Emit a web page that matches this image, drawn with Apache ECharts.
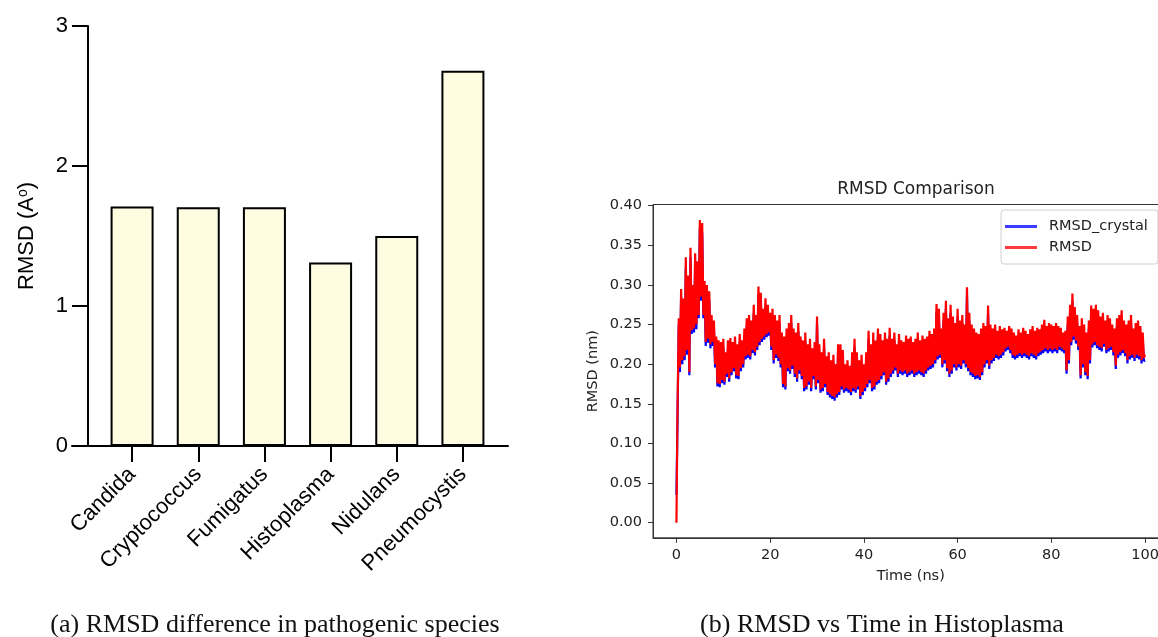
<!DOCTYPE html>
<html>
<head>
<meta charset="utf-8">
<script src="https://cdn.jsdelivr.net/npm/echarts@6/dist/echarts.min.js"></script>
<style>
html,body{margin:0;padding:0;background:#fff;}
#chart{width:1158px;height:637px;}
</style>
</head>
<body>
<div id="chart"></div>
<script>
// ---------- Panel (a): RMSD per species ----------
const species = ['Candida', 'Cryptococcus', 'Fumigatus', 'Histoplasma', 'Nidulans', 'Pneumocystis'];
const speciesRmsd = [1.71, 1.705, 1.705, 1.31, 1.50, 2.68];
const barTicks = [0, 1, 2, 3];

// ---------- Panel (b): RMSD vs time (sampled every 0.25 ns, 0..100 ns) ----------
const sampleStepNs = 0.25;
const rmsdCrystal = [
0.035,0.140,0.250,0.190,0.285,0.200,0.270,0.205,0.322,0.212,0.300,0.186,0.335,0.238,0.290,0.240,0.328,0.244,0.318,0.258,
0.372,0.280,0.366,0.258,0.296,0.223,0.290,0.227,0.282,0.220,0.252,0.223,0.245,0.196,0.226,0.172,0.220,0.171,0.218,0.176,
0.222,0.174,0.206,0.184,0.220,0.178,0.223,0.186,0.218,0.191,0.225,0.182,0.215,0.181,0.228,0.191,0.220,0.196,0.235,0.206,
0.248,0.208,0.252,0.206,0.245,0.214,0.265,0.211,0.252,0.218,0.288,0.224,0.280,0.228,0.260,0.231,0.273,0.234,0.265,0.236,
0.255,0.218,0.260,0.201,0.252,0.208,0.245,0.204,0.252,0.196,0.230,0.171,0.225,0.168,0.235,0.191,0.242,0.188,0.252,0.194,
0.235,0.184,0.230,0.178,0.242,0.188,0.225,0.181,0.220,0.166,0.230,0.168,0.215,0.174,0.222,0.166,0.210,0.181,0.218,0.168,
0.250,0.176,0.215,0.164,0.205,0.166,0.222,0.171,0.200,0.161,0.205,0.158,0.195,0.156,0.202,0.154,0.190,0.158,0.215,0.161,
0.215,0.168,0.208,0.164,0.190,0.166,0.195,0.164,0.188,0.161,0.205,0.166,0.222,0.164,0.205,0.168,0.195,0.156,0.202,0.161,
0.190,0.166,0.205,0.171,0.232,0.176,0.215,0.166,0.230,0.168,0.220,0.174,0.235,0.176,0.228,0.181,0.220,0.186,0.230,0.174,
0.222,0.178,0.236,0.184,0.222,0.188,0.230,0.192,0.215,0.184,0.228,0.188,0.220,0.186,0.218,0.188,0.226,0.184,0.222,0.186,
0.225,0.188,0.218,0.184,0.222,0.186,0.230,0.188,0.220,0.186,0.226,0.184,0.222,0.188,0.225,0.192,0.232,0.194,0.228,0.196,
0.235,0.201,0.266,0.206,0.260,0.208,0.235,0.196,0.255,0.201,0.270,0.191,0.248,0.184,0.265,0.188,0.250,0.196,0.242,0.192,
0.260,0.196,0.245,0.194,0.252,0.201,0.240,0.196,0.287,0.191,0.255,0.186,0.240,0.184,0.235,0.181,0.230,0.182,0.228,0.180,
0.235,0.186,0.242,0.196,0.238,0.201,0.264,0.194,0.240,0.201,0.235,0.204,0.240,0.208,0.232,0.206,0.238,0.208,0.234,0.211,
0.236,0.216,0.232,0.218,0.238,0.214,0.235,0.208,0.230,0.206,0.226,0.208,0.234,0.210,0.230,0.208,0.236,0.210,0.232,0.208,
0.228,0.206,0.234,0.210,0.238,0.208,0.232,0.206,0.236,0.210,0.234,0.212,0.240,0.214,0.246,0.216,0.238,0.214,0.242,0.216,
0.240,0.214,0.238,0.216,0.242,0.214,0.238,0.218,0.236,0.216,0.230,0.214,0.232,0.188,0.250,0.201,0.265,0.224,0.279,0.231,
0.262,0.226,0.252,0.218,0.238,0.182,0.248,0.196,0.240,0.186,0.230,0.181,0.245,0.201,0.264,0.221,0.260,0.224,0.265,0.220,
0.258,0.218,0.250,0.216,0.255,0.222,0.245,0.214,0.252,0.216,0.248,0.218,0.240,0.211,0.235,0.194,0.248,0.208,0.252,0.211,
0.258,0.214,0.245,0.210,0.240,0.201,0.245,0.206,0.252,0.208,0.235,0.204,0.242,0.208,0.245,0.206,0.238,0.201,0.230,0.204,
0.205
];
const rmsd = [
0.000,0.150,0.258,0.196,0.295,0.205,0.283,0.210,0.335,0.218,0.312,0.190,0.347,0.243,0.300,0.245,0.340,0.250,0.330,0.262,
0.382,0.285,0.378,0.262,0.305,0.228,0.300,0.232,0.292,0.225,0.262,0.228,0.255,0.200,0.235,0.176,0.230,0.175,0.228,0.180,
0.232,0.178,0.215,0.188,0.230,0.182,0.233,0.190,0.228,0.195,0.235,0.186,0.225,0.185,0.238,0.195,0.230,0.200,0.245,0.210,
0.258,0.212,0.262,0.210,0.255,0.218,0.275,0.215,0.262,0.222,0.298,0.228,0.290,0.232,0.270,0.235,0.283,0.238,0.275,0.240,
0.265,0.222,0.270,0.205,0.262,0.212,0.255,0.208,0.262,0.200,0.240,0.175,0.235,0.172,0.245,0.195,0.252,0.192,0.262,0.198,
0.245,0.188,0.240,0.182,0.252,0.192,0.235,0.185,0.230,0.170,0.240,0.172,0.225,0.178,0.232,0.170,0.220,0.185,0.228,0.172,
0.260,0.180,0.225,0.168,0.215,0.170,0.232,0.175,0.210,0.165,0.215,0.162,0.205,0.160,0.212,0.158,0.200,0.162,0.225,0.165,
0.225,0.172,0.218,0.168,0.200,0.170,0.205,0.168,0.198,0.165,0.215,0.170,0.232,0.168,0.215,0.172,0.205,0.160,0.212,0.165,
0.200,0.170,0.215,0.175,0.242,0.180,0.225,0.170,0.240,0.172,0.230,0.178,0.245,0.180,0.238,0.185,0.230,0.190,0.240,0.178,
0.232,0.182,0.246,0.188,0.232,0.192,0.240,0.196,0.225,0.188,0.238,0.192,0.230,0.190,0.228,0.192,0.236,0.188,0.232,0.190,
0.235,0.192,0.228,0.188,0.232,0.190,0.240,0.192,0.230,0.190,0.236,0.188,0.232,0.192,0.235,0.196,0.242,0.198,0.238,0.200,
0.245,0.205,0.276,0.210,0.270,0.212,0.245,0.200,0.265,0.205,0.280,0.195,0.258,0.188,0.275,0.192,0.260,0.200,0.252,0.196,
0.270,0.200,0.255,0.198,0.262,0.205,0.250,0.200,0.297,0.195,0.265,0.190,0.250,0.188,0.245,0.185,0.240,0.186,0.238,0.184,
0.245,0.190,0.252,0.200,0.248,0.205,0.274,0.198,0.250,0.205,0.245,0.208,0.250,0.212,0.242,0.210,0.248,0.212,0.244,0.215,
0.246,0.220,0.242,0.222,0.248,0.218,0.245,0.212,0.240,0.210,0.236,0.212,0.244,0.214,0.240,0.212,0.246,0.214,0.242,0.212,
0.238,0.210,0.244,0.214,0.248,0.212,0.242,0.210,0.246,0.214,0.244,0.216,0.250,0.218,0.256,0.220,0.248,0.218,0.252,0.220,
0.250,0.218,0.248,0.220,0.252,0.218,0.248,0.222,0.246,0.220,0.240,0.218,0.242,0.192,0.260,0.205,0.275,0.228,0.289,0.235,
0.272,0.230,0.262,0.222,0.248,0.186,0.258,0.200,0.250,0.190,0.240,0.185,0.255,0.205,0.274,0.225,0.270,0.228,0.275,0.224,
0.268,0.222,0.260,0.220,0.265,0.226,0.255,0.218,0.262,0.220,0.258,0.222,0.250,0.215,0.245,0.198,0.258,0.212,0.262,0.215,
0.268,0.218,0.255,0.214,0.250,0.205,0.255,0.210,0.262,0.212,0.245,0.208,0.252,0.212,0.255,0.210,0.248,0.205,0.240,0.208,
0.212
];
const timeTicks = [0, 20, 40, 60, 80, 100];
const rmsdTicks = [0, 0.05, 0.10, 0.15, 0.20, 0.25, 0.30, 0.35, 0.40];

// ---------- build ----------
const timeNs = rmsd.map((_, i) => i * sampleStepNs);
const crystalPairs = rmsdCrystal.map((v, i) => [timeNs[i], v]);
const rmsdPairs = rmsd.map((v, i) => [timeNs[i], v]);

const chart = echarts.init(document.getElementById('chart'), null, {renderer: 'canvas'});
const sans = 'DejaVu Sans';
const arial = 'Liberation Sans';

chart.setOption({
  animation: false,
  backgroundColor: '#ffffff',
  title: [
    {text: 'RMSD Comparison', left: 911, top: 176, textAlign: 'center',
     textStyle: {fontFamily: sans, fontSize: 17, fontWeight: 'normal', color: '#222'}},
    {text: '(a) RMSD difference in pathogenic species', left: 270, top: 607, textAlign: 'center',
     textStyle: {fontFamily: 'Liberation Serif', fontSize: 26, fontWeight: 'normal', color: '#111'}},
    {text: '(b) RMSD vs Time in Histoplasma', left: 877, top: 607, textAlign: 'center',
     textStyle: {fontFamily: 'Liberation Serif', fontSize: 26, fontWeight: 'normal', color: '#111'}}
  ],
  legend: {
    orient: 'vertical', left: 1001, top: 210,
    padding: [8, 10, 8, 4],
    itemGap: 4, itemWidth: 32, itemHeight: 3, icon: 'rect',
    backgroundColor: '#fff', borderColor: '#d0d0d0', borderWidth: 1, borderRadius: 3,
    textStyle: {fontFamily: sans, fontSize: 14.5, color: '#222', padding: [0, 0, 0, 7], lineHeight: 17},
    data: [
      {name: 'RMSD_crystal', itemStyle: {color: '#3c3cff'}},
      {name: 'RMSD', itemStyle: {color: '#ff3c3c'}}
    ]
  },
  grid: [
    {left: 99, top: 26, width: 397, height: 420, outerBoundsMode: 'none', containLabel: false},
    {left: 72, top: 26, width: 436, height: 420, outerBoundsMode: 'none', containLabel: false},
    {left: 653, top: 204.5, width: 515.5, height: 333.3, outerBoundsMode: 'none', containLabel: false,
     show: true, borderColor: '#333', borderWidth: 1, backgroundColor: 'transparent'}
  ],
  xAxis: [
    {gridIndex: 0, type: 'category', data: species,
     axisLine: {show: false},
     axisTick: {show: true, alignWithLabel: true, length: 16, lineStyle: {color: '#000', width: 2}},
     axisLabel: {rotate: 45, margin: 25, fontFamily: arial, fontSize: 22, color: '#000', interval: 0},
     splitLine: {show: false}},
    {gridIndex: 1, type: 'value', min: 0, max: 1,
     axisLine: {show: true, lineStyle: {color: '#000', width: 2}},
     axisTick: {show: false}, axisLabel: {show: false}, splitLine: {show: false}},
    {gridIndex: 2, type: 'value', min: -5, max: 105,
     name: 'Time (ns)', nameLocation: 'middle', nameGap: 31,
     nameTextStyle: {fontFamily: sans, fontSize: 14.5, color: '#222'},
     axisLine: {show: true, onZero: false, lineStyle: {color: '#333', width: 1}},
     axisTick: {show: true, customValues: timeTicks, length: 5, lineStyle: {color: '#333'}},
     axisLabel: {customValues: timeTicks, margin: 10, fontFamily: sans, fontSize: 14.5, color: '#222'},
     splitLine: {show: false}}
  ],
  yAxis: [
    {gridIndex: 0, type: 'value', min: 0, max: 3, interval: 1, offset: 11,
     name: 'RMSD (A{sup|o})', nameLocation: 'middle', nameRotate: 90, nameGap: 50,
     nameTextStyle: {fontFamily: arial, fontSize: 22, color: '#000',
       rich: {sup: {fontFamily: arial, fontSize: 14, verticalAlign: 'top', color: '#000'}}},
     axisLine: {show: true, lineStyle: {color: '#000', width: 2}},
     axisTick: {show: true, length: 16, lineStyle: {color: '#000', width: 2}},
     axisLabel: {margin: 20, fontFamily: arial, fontSize: 22, color: '#000'},
     splitLine: {show: false}},
    {gridIndex: 1, type: 'value', min: 0, max: 1, show: false},
    {gridIndex: 2, type: 'value', min: -0.0191, max: 0.4015,
     name: 'RMSD (nm)', nameLocation: 'middle', nameRotate: 90, nameGap: 52,
     nameTextStyle: {fontFamily: sans, fontSize: 14.5, color: '#222'},
     axisLine: {show: true, onZero: false, lineStyle: {color: '#333', width: 1}},
     axisTick: {show: true, customValues: rmsdTicks, length: 5, lineStyle: {color: '#333'}},
     axisLabel: {customValues: rmsdTicks, margin: 11, fontFamily: sans, fontSize: 14.5, color: '#222',
       formatter: v => Number(v).toFixed(2)},
     splitLine: {show: false}}
  ],
  series: [
    {type: 'bar', xAxisIndex: 0, yAxisIndex: 0, data: speciesRmsd, barWidth: 43,
     itemStyle: {color: '#fefde2', borderColor: '#000', borderWidth: 2}},
    {name: 'RMSD_crystal', type: 'line', xAxisIndex: 2, yAxisIndex: 2, data: crystalPairs,
     showSymbol: false, symbol: 'none', sampling: null, color: '#0000ff',
     lineStyle: {color: '#0000ff', width: 2.2}},
    {name: 'RMSD', type: 'line', xAxisIndex: 2, yAxisIndex: 2, data: rmsdPairs,
     showSymbol: false, symbol: 'none', sampling: null, color: '#ff0000',
     lineStyle: {color: '#ff0000', width: 2.2}}
  ]
});
</script>
</body>
</html>
